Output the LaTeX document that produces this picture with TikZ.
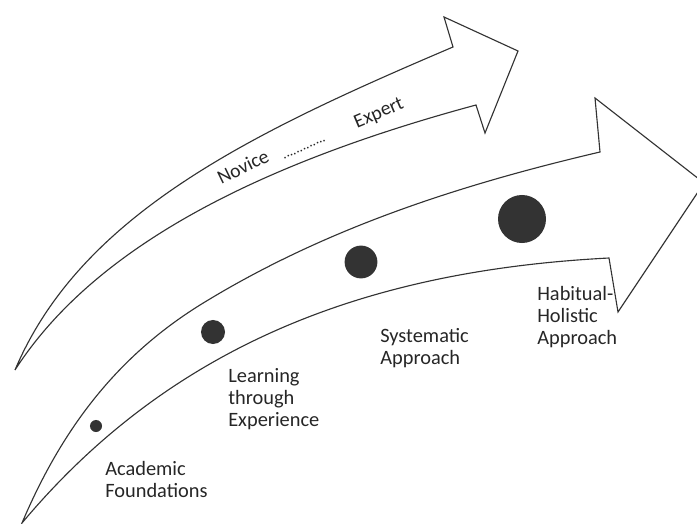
\documentclass[tikz,border=0pt]{standalone}
\usepackage{fontspec}
\setmainfont{Carlito}
\usepackage{tikz}
\tikzstyle{arrowbody} = [draw=black!80, line width=0.8pt, fill=white]
\tikzstyle{stagedot} = [circle, fill=black!80, inner sep=0pt]
\tikzstyle{stagelabel} = [anchor=base west, align=left, inner sep=0pt, text=black!85, font=\fontsize{14.5}{15.3}\selectfont]
\tikzstyle{ribbonlabel} = [anchor=base, inner sep=0pt, text=black!85, font=\fontsize{14}{15.3}\selectfont]

\begin{document}
\begin{tikzpicture}[x=0.025cm, y=-0.025cm]
    \useasboundingbox (0,0) rectangle (697,524);
    \clip (0,0) rectangle (697,524);

    % upper arrow: novice to expert
    \draw [arrowbody] (15,370) .. controls (81,214) and (251,133) .. (453,47)
        -- (444,17) -- (518,51) -- (485,133) -- (476,105)
        .. controls (265,162) and (96,244) .. cycle;

    % lower arrow: the four stages
    \draw [arrowbody] (22,523) .. controls (61,431) and (115,358) .. (200,305)
        .. controls (323,229) and (459,185) .. (600,152)
        -- (595,98) -- (704,183) -- (618,312) -- (609,258)
        .. controls (377,270) and (176,339) .. cycle;

    \node (novice) [ribbonlabel, rotate=26] at (246,173) {Novice};
    \node (dots) [ribbonlabel, rotate=24, font=\fontsize{10}{10}\selectfont] at (305,150) {.............};
    \node (expert) [ribbonlabel, rotate=23] at (381,118) {Expert};

    \node (s1) [stagedot, minimum size=0.3cm] at (96,426) {};
    \node (s2) [stagedot, minimum size=0.6cm] at (213,332) {};
    \node (s3) [stagedot, minimum size=0.82cm] at (361,262) {};
    \node (s4) [stagedot, minimum size=1.2cm] at (522,219) {};

    % base of a multi-line label is its last line
    \node (acad) [stagelabel] at (105,497) {Academic\\Foundations};
    \node (learn) [stagelabel] at (228,426) {Learning\\through\\Experience};
    \node (syst) [stagelabel] at (380,364) {Systematic\\Approach};
    \node (habit) [stagelabel] at (537,344) {Habitual-\\Holistic\\Approach};
\end{tikzpicture}
\end{document}
